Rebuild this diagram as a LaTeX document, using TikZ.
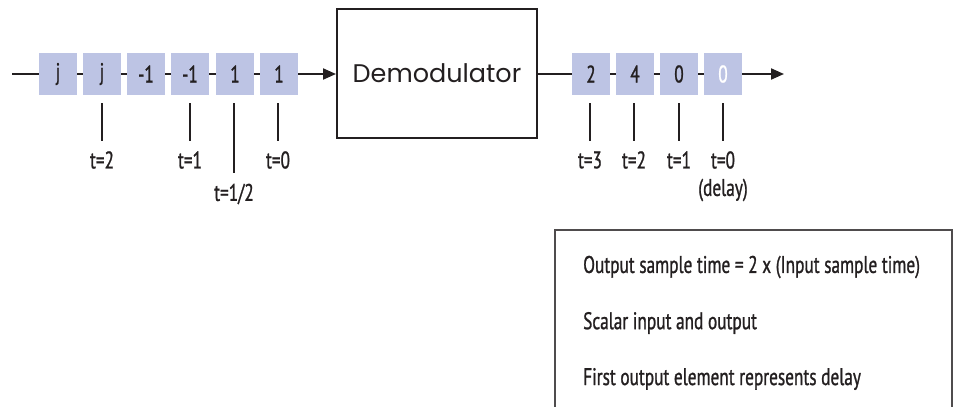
\documentclass[tikz,border=0pt]{standalone}
\usepackage{fontspec}
\usetikzlibrary{arrows.meta}
\newfontfamily\condf[FakeStretch=0.72,FakeBold=1]{PT Sans}
\newfontfamily\geof{Poppins}
\definecolor{cell}{HTML}{BDC4E4}
\definecolor{ink}{HTML}{231F20}
\tikzset{
  cellbox/.style={fill=cell, minimum width=38pt, minimum height=42pt, inner sep=0pt, text=ink, font=\condf\fontsize{24}{27}\selectfont},
  wire/.style={line width=2pt, draw=ink},
  arr/.style={wire, -{Triangle[length=13pt,width=11pt]}},
  tick/.style={line width=2pt, draw=ink},
  lbl/.style={text=ink, inner sep=0pt, font=\condf\fontsize{24}{27}\selectfont},
  note/.style={text=ink, inner sep=0pt, anchor=west, font=\condf\fontsize{24}{27}\selectfont},
}
\begin{document}
\begin{tikzpicture}[x=1pt,y=-1pt]
\useasboundingbox (0,0) rectangle (959,407);
% input stream
\coordinate (in) at (12,74);
\node[cellbox] (i1) at (58,74) {j};
\node[cellbox] (i2) at (102,74) {j};
\node[cellbox] (i3) at (146,74) {-1};
\node[cellbox] (i4) at (190,74) {-1};
\node[cellbox] (i5) at (235,74) {1};
\node[cellbox] (i6) at (279,74) {1};
\node[draw=ink, line width=2pt, minimum width=200pt, minimum height=129pt, inner sep=0pt,
      text=ink, font=\geof\fontsize{25.5}{30}\selectfont] (demod) at (437,73.5) {Demodulator};
\draw[wire] (in) -- (i1);
\draw[wire] (i1) -- (i2);
\draw[wire] (i2) -- (i3);
\draw[wire] (i3) -- (i4);
\draw[wire] (i4) -- (i5);
\draw[wire] (i5) -- (i6);
\draw[arr] (i6) -- (demod.west |- i6);
% output stream
\node[cellbox] (o1) at (591,74) {2};
\node[cellbox] (o2) at (635,74) {4};
\node[cellbox] (o3) at (679,74) {0};
\node[cellbox, text=white] (o4) at (723,74) {0};
\coordinate (out) at (784,74);
\draw[wire] (demod.east |- o1) -- (o1);
\draw[wire] (o1) -- (o2);
\draw[wire] (o2) -- (o3);
\draw[wire] (o3) -- (o4);
\draw[arr] (o4) -- (out);
% input ticks and labels
\draw[tick] (102,103) -- (102,141);
\draw[tick] (190,103) -- (190,141);
\draw[tick] (234,103) -- (234,173);
\draw[tick] (278,103) -- (278,141);
\node[lbl] (t2) at (102,160) {t=2};
\node[lbl] (t1) at (190,160) {t=1};
\node[lbl] (th) at (234,194) {t=1/2};
\node[lbl] (t0) at (278,160) {t=0};
% output ticks and labels
\draw[tick] (590,103) -- (590,141);
\draw[tick] (634,103) -- (634,141);
\draw[tick] (679,103) -- (679,141);
\draw[tick] (723,103) -- (723,141);
\node[lbl] (u3) at (590,160) {t=3};
\node[lbl] (u2) at (634,160) {t=2};
\node[lbl] (u1) at (679,160) {t=1};
\node[lbl] (u0) at (723,160) {t=0};
\node[lbl] (ud) at (723,190) {(delay)};
% note box
\draw[line width=1.5pt, draw=ink!80] (952,420) -- (952,230) -- (555,230) -- (555,420);
\node[note] (n1) at (583,267) {Output sample time = 2 x (Input sample time)};
\node[note] (n2) at (583,323) {Scalar input and output};
\node[note] (n3) at (583,379) {First output element represents delay};
\end{tikzpicture}
\end{document}
